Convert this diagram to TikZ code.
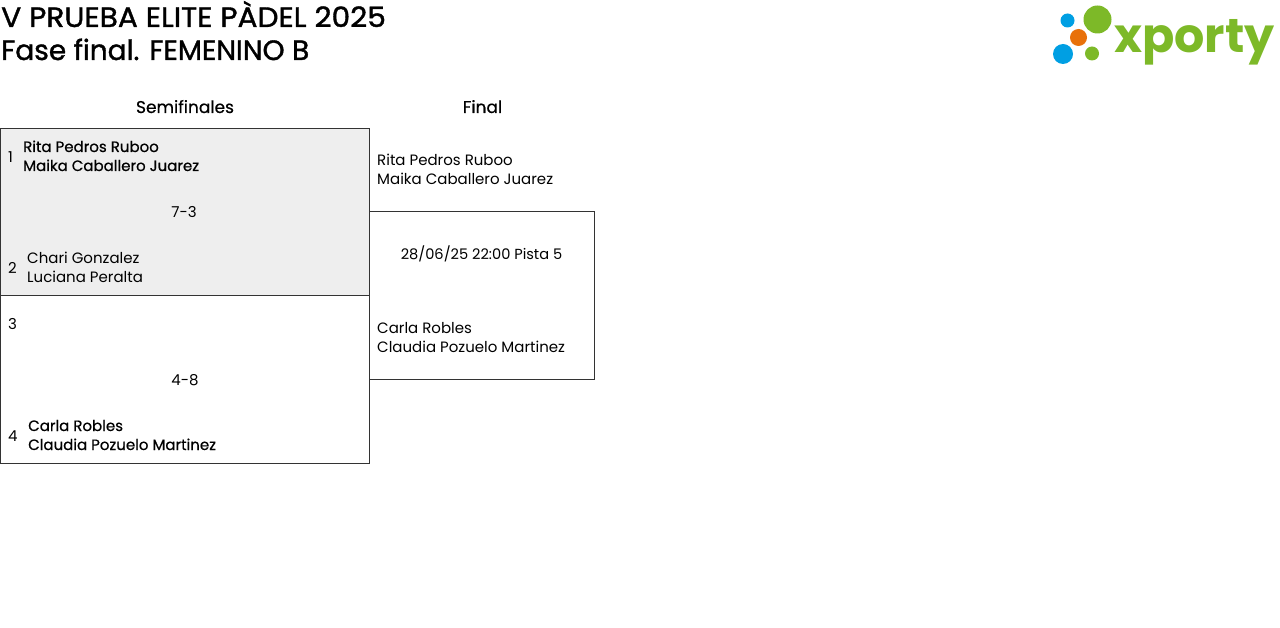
\documentclass[tikz,border=0pt]{standalone}
\usepackage{fontspec}
\setmainfont{Poppins}
\newfontfamily\logofont{Poppins}[UprightFont=* Bold]
\newfontfamily\winfont{Poppins}[FakeBold=0.6]
\newfontfamily\titlefont{Poppins}[FakeBold=1.3,FakeStretch=1.06]
\newfontfamily\subtitlefont{Poppins}[FakeBold=1.3]
\definecolor{matchgrey}{HTML}{EEEEEE}
\definecolor{framegrey}{HTML}{333333}
\definecolor{xgreen}{HTML}{7DB928}
\definecolor{xblue}{HTML}{009FE3}
\definecolor{xorange}{HTML}{E8710A}
\tikzset{
  titlenode/.style={anchor=base west,inner sep=0pt},
  roundnode/.style={anchor=base,inner sep=0pt,font=\winfont\fontsize{17}{17}\selectfont},
  txt/.style={anchor=base west,inner sep=0pt,font=\fontsize{15}{15}\selectfont},
  txtc/.style={txt,anchor=base},
  win/.style={txt,font=\winfont\fontsize{15}{15}\selectfont},
  matchbox/.style={draw=framegrey,line width=.8pt,anchor=north west,inner sep=0pt,outer sep=0pt},
  dot/.style={circle,inner sep=0pt,minimum size=#1}
}
\begin{document}
\begin{tikzpicture}[x=1pt,y=-1pt]
\useasboundingbox (0,0) rectangle (1280,628);
% titles
\node[titlenode,font=\titlefont\fontsize{28}{28}\selectfont] (title1) at (1,27) {V PRUEBA ELITE PÀDEL 2025};
\node[titlenode,font=\subtitlefont\fontsize{28}{28}\selectfont] (title2) at (1,60) {Fase final. FEMENINO B};
% logo
\node[dot=28pt,fill=xgreen] (d1) at (1097.5,19.5) {};
\node[dot=14pt,fill=xblue] (d2) at (1067.5,20.5) {};
\node[dot=17pt,fill=xorange] (d3) at (1078.5,37.5) {};
\node[dot=20pt,fill=xblue] (d4) at (1063,54) {};
\node[dot=14pt,fill=xgreen] (d5) at (1092,53.5) {};
\node[anchor=base west,inner sep=0pt,text=xgreen,font=\logofont\fontsize{47.6}{48}\selectfont] (logo) at (1114,53) {xporty};
% headers
\node[roundnode] (semi) at (185,113) {Semifinales};
\node[roundnode] (final) at (482.5,113) {Final};
% boxes
\node[matchbox,fill=matchgrey,minimum width=369pt,minimum height=167pt] (m1) at (0.5,128.5) {};
\node[matchbox,minimum width=369pt,minimum height=168pt] (m2) at (0.5,295.5) {};
\node[matchbox,minimum width=225pt,minimum height=168pt] (m3) at (369.5,211.5) {};
% semifinal 1
\node[txt] (n1) at (8,163) {1};
\node[win] (p1) at (23,152) {Rita Pedros Ruboo};
\node[win] (p2) at (23,171) {Maika Caballero Juarez};
\node[txtc] (s1) at (184,218) {7-3};
\node[txt] (n2) at (8,274) {2};
\node[txt] (p3) at (27,264) {Chari Gonzalez};
\node[txt] (p4) at (27,283) {Luciana Peralta};
% semifinal 2
\node[txt] (n3) at (8,330) {3};
\node[txtc] (s2) at (185,385) {4-8};
\node[txt] (n4) at (8,441) {4};
\node[win] (p5) at (28,431) {Carla Robles};
\node[win] (p6) at (28,450) {Claudia Pozuelo Martinez};
% final
\node[txt] (f1) at (377,166) {Rita Pedros Ruboo};
\node[txt] (f2) at (377,185) {Maika Caballero Juarez};
\node[txtc,font=\fontsize{14.6}{15}\selectfont] (when) at (481.5,259.5) {28/06/25 22:00 Pista 5};
\node[txt] (f3) at (377,334) {Carla Robles};
\node[txt] (f4) at (377,352.5) {Claudia Pozuelo Martinez};
\end{tikzpicture}
\end{document}
